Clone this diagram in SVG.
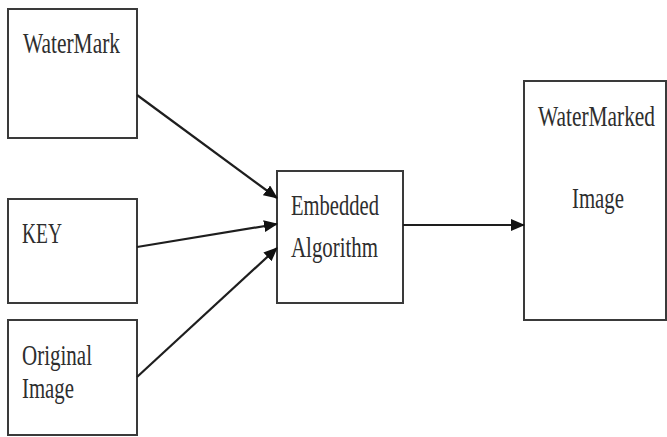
<svg xmlns="http://www.w3.org/2000/svg" width="667" height="437" viewBox="0 0 667 437">
  <style>
    .box { fill: #ffffff; stroke: #3a3a3a; stroke-width: 2; }
    .lbl { font-family: "Liberation Serif", "Times New Roman", serif; font-size: 30px; fill: #2e2e2e; }
    .wire { stroke: #1e1e1e; stroke-width: 2.2; fill: none; marker-end: url(#head); }
  </style>
  <defs>
    <marker id="head" markerWidth="14" markerHeight="12" refX="13" refY="6" orient="auto" markerUnits="userSpaceOnUse">
      <path d="M0,0 L14,6 L0,12 Z" fill="#111111"/>
    </marker>
  </defs>
  <rect width="667" height="437" fill="#ffffff"/>

  <g id="watermark">
    <rect class="box" x="8" y="9" width="129" height="129"/>
    <text class="lbl" x="23" y="53" textLength="97" lengthAdjust="spacingAndGlyphs">WaterMark</text>
  </g>

  <g id="key">
    <rect class="box" x="8" y="199" width="129" height="104"/>
    <text class="lbl" x="22" y="243" textLength="40" lengthAdjust="spacingAndGlyphs">KEY</text>
  </g>

  <g id="original-image">
    <rect class="box" x="8" y="320" width="129" height="115"/>
    <text class="lbl" x="22" y="365" textLength="70" lengthAdjust="spacingAndGlyphs">Original</text>
    <text class="lbl" x="22" y="398" textLength="52" lengthAdjust="spacingAndGlyphs">Image</text>
  </g>

  <g id="embedded-algorithm">
    <rect class="box" x="277" y="171" width="126" height="132"/>
    <text class="lbl" x="291" y="215" textLength="88" lengthAdjust="spacingAndGlyphs">Embedded</text>
    <text class="lbl" x="291" y="257" textLength="87" lengthAdjust="spacingAndGlyphs">Algorithm</text>
  </g>

  <g id="watermarked-image">
    <rect class="box" x="524" y="81" width="142" height="239"/>
    <text class="lbl" x="538" y="126" textLength="117" lengthAdjust="spacingAndGlyphs">WaterMarked</text>
    <text class="lbl" x="572" y="208" textLength="52" lengthAdjust="spacingAndGlyphs">Image</text>
  </g>

  <g id="connectors">
    <line class="wire" x1="137" y1="95" x2="277" y2="198"/>
    <line class="wire" x1="137" y1="247" x2="277" y2="224"/>
    <line class="wire" x1="137" y1="377" x2="277" y2="248"/>
    <line class="wire" x1="403" y1="225" x2="524" y2="225"/>
  </g>
</svg>
